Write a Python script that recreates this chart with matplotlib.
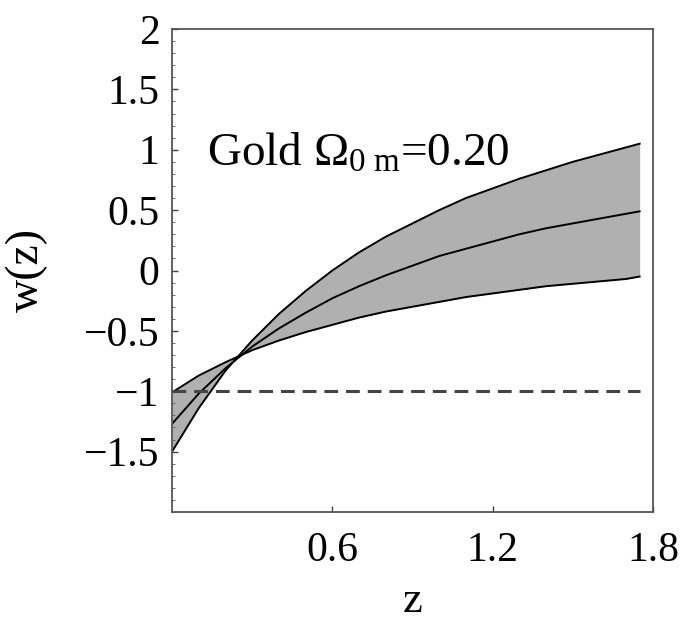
import matplotlib
matplotlib.use("Agg")
import matplotlib.pyplot as plt
from matplotlib.ticker import MultipleLocator

plt.rcParams['font.family'] = ['Liberation Serif', 'DejaVu Serif']
plt.rcParams['mathtext.fontset'] = 'custom'
plt.rcParams['mathtext.rm'] = 'Liberation Serif'
plt.rcParams['mathtext.it'] = 'Liberation Serif:italic'
plt.rcParams['mathtext.bf'] = 'Liberation Serif:bold'

z = [0.0, 0.1, 0.2, 0.3, 0.4, 0.5, 0.6, 0.7, 0.8, 0.9, 1.0,
     1.1, 1.2, 1.3, 1.4, 1.5, 1.6, 1.7, 1.75]
w_upper = [-1.50, -1.14, -0.83, -0.58, -0.36, -0.17, 0.00, 0.15, 0.28, 0.39, 0.50,
           0.60, 0.68, 0.76, 0.83, 0.90, 0.96, 1.02, 1.05]
w_mid = [-1.27, -1.02, -0.81, -0.63, -0.48, -0.35, -0.23, -0.13, -0.04, 0.04, 0.12,
         0.18, 0.24, 0.30, 0.35, 0.39, 0.43, 0.47, 0.49]
w_lower = [-1.01, -0.87, -0.76, -0.66, -0.58, -0.51, -0.45, -0.39, -0.34, -0.30, -0.26,
           -0.22, -0.19, -0.16, -0.13, -0.11, -0.09, -0.07, -0.05]
z_ref = [0.0, 1.75]
w_ref = [-1.0, -1.0]

xticks = [0.6, 1.2, 1.8]
xticklabels = ['0.6', '1.2', '1.8']
yticks = [-1.5, -1, -0.5, 0, 0.5, 1, 1.5, 2]
yticklabels = ['\u22121.5', '\u22121', '\u22120.5', '0', '0.5', '1', '1.5', '2']

fig = plt.figure(figsize=(6.86, 6.25), dpi=100)
ax = fig.add_axes([172/686, 1 - 512/625, (653 - 172)/686, (512 - 29)/625])

ax.fill_between(z, w_lower, w_upper, color='#b0b0b0', lw=0)
ax.plot(z, w_upper, color='black', lw=1.4)
ax.plot(z, w_mid, color='black', lw=1.4)
ax.plot(z, w_lower, color='black', lw=1.4)
ax.plot(z_ref, w_ref, color='#444444', lw=2.2, dashes=(4.5, 2.6))

ax.set_xlim(0, 1.8)
ax.set_ylim(-2, 2)
ax.set_xticks(xticks)
ax.set_xticklabels(xticklabels)
ax.set_yticks(yticks)
ax.set_yticklabels(yticklabels)
ax.yaxis.set_minor_locator(MultipleLocator(0.1))

ax.tick_params(axis='both', which='major', direction='in', length=4, width=1,
               color='#444444', labelsize=30)
ax.tick_params(axis='y', which='major', pad=9)
ax.tick_params(axis='x', which='major', pad=14)
ax.tick_params(axis='y', which='minor', direction='in', length=2, width=0.7,
               color='#666666')

for s in ax.spines.values():
    s.set_color('#555555')
    s.set_linewidth(1.3)

ax.set_xlabel('z', fontsize=32, labelpad=8)
ax.set_ylabel('w(z)', fontsize=33, labelpad=26)

ax.text(0.131, 0.87, 'Gold \u03a9$_{\\mathrm{0\\ m}}$=0.20', fontsize=34,
        ha='left', va='baseline')

fig.savefig('out.png', dpi=100)
